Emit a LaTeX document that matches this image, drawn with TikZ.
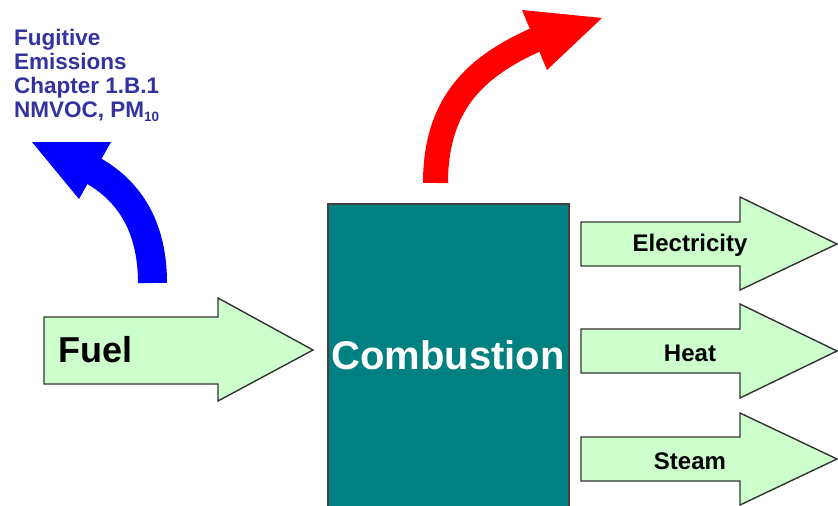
\documentclass[tikz,border=0pt]{standalone}
\usepackage{fontspec}
\setmainfont{Liberation Sans}
\definecolor{teal}{RGB}{0,128,128}
\definecolor{lightgreen}{RGB}{204,255,204}
\definecolor{bluetext}{RGB}{51,51,160}
\definecolor{pureblue}{RGB}{0,0,255}
\definecolor{purered}{RGB}{255,0,0}
\begin{document}
\begin{tikzpicture}[x=1pt,y=-1pt,
  greenarrow/.style={draw=black!80,fill=lightgreen,line width=1.4pt,line join=miter},
  boxstyle/.style={draw=black!75,fill=teal,line width=2pt},
  labeltext/.style={font=\fontsize{24}{24}\selectfont\bfseries,text=black,inner sep=0pt},
  bigtext/.style={font=\fontsize{36}{36}\selectfont\bfseries,text=black,inner sep=0pt,anchor=base west},
  combtext/.style={font=\fontsize{40}{40}\selectfont\bfseries,text=white,inner sep=0pt},
  bluenote/.style={font=\fontsize{22.5}{24}\selectfont\bfseries,text=bluetext,inner sep=0pt,align=left,anchor=north west}
]
\useasboundingbox (0,0) rectangle (838,506);
\fill[white] (0,0) rectangle (838,506);

% Combustion box
\draw[boxstyle] (328,204) rectangle (569,512);
\node[combtext] (comb) at (448,355) {Combustion};

% Fuel arrow
\draw[greenarrow] (44,317) -- (218,317) -- (218,298) -- (313,350) -- (218,401) -- (218,384) -- (44,384) -- cycle;
\node[bigtext] (fuel) at (58,362) {Fuel};

% Output arrows
\draw[greenarrow] (581,222) -- (740,222) -- (740,197) -- (837,244) -- (740,290) -- (740,266) -- (581,266) -- cycle;
\node[labeltext] (elec) at (690,245) {Electricity};
\draw[greenarrow] (581,329) -- (740,329) -- (740,304) -- (837,351) -- (740,398) -- (740,373) -- (581,373) -- cycle;
\node[labeltext] (heat) at (690,353) {Heat};
\draw[greenarrow] (581,437) -- (740,437) -- (740,413) -- (837,459) -- (740,505) -- (740,481) -- (581,481) -- cycle;
\node[labeltext] (steam) at (690,461) {Steam};

% Blue curved arrow (fugitive emissions)
\draw[pureblue,line width=29pt] (152.5,283) .. controls (152.5,225) and (128,190) .. (92,170);
\fill[pureblue] (32,142) -- (111,142) -- (79,199) -- cycle;

% Red curved arrow
\draw[purered,line width=25pt] (435.5,183) .. controls (435.5,100) and (480,65) .. (535,40);
\fill[purered] (522,10) -- (602,18) -- (547,70) -- cycle;

% Blue note
\node[bluenote] (note) at (14,29) {Fugitive\\Emissions\\Chapter 1.B.1\\NMVOC, PM\raisebox{-4pt}{\fontsize{13.5}{13.5}\selectfont 10}};
\end{tikzpicture}
\end{document}
